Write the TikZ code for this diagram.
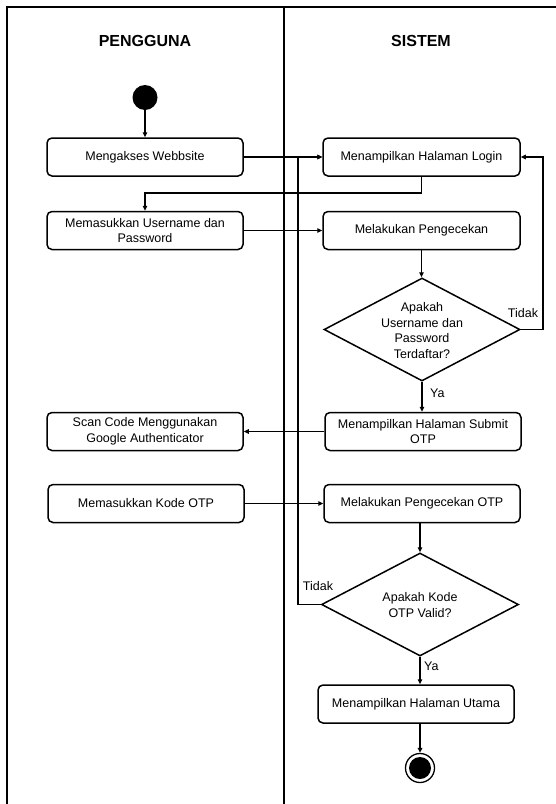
\documentclass[tikz,border=0pt]{standalone}
\usepackage{fontspec}
\setmainfont{Liberation Sans}
\usetikzlibrary{shapes.geometric,arrows.meta}
\begin{document}
\begin{tikzpicture}[x=1pt,y=-1pt,
  every node/.style={font=\fontsize{12.5}{15.5}\selectfont},
  act/.style={draw, line width=1.5pt, rounded corners=5pt, minimum width=196pt, minimum height=38pt, align=center, inner sep=0pt},
  decision/.style={draw, diamond, line width=1.5pt, inner sep=0pt},
  flow/.style={line width=1.4pt, -{Triangle[length=5pt,width=4.5pt]}},
  lane/.style={line width=2pt},
  head/.style={font=\fontsize{16}{19}\selectfont\bfseries},
  lbl/.style={inner sep=0pt}
]
\useasboundingbox (0,0) rectangle (556,804);
% swimlanes
\draw[lane] (7,804) -- (7,7) -- (556,7);
\draw[lane] (284,7) -- (284,804);
\node[head] (hp) at (145,41) {PENGGUNA};
\node[head] (hs) at (421,41) {SISTEM};

% nodes
\node[circle, fill, minimum size=25pt, inner sep=0pt] (start) at (145,97.5) {};
\node[act] (b1) at (145,157) {Mengakses Webbsite};
\node[act, minimum width=197pt] (login) at (421.5,157) {Menampilkan Halaman Login};
\node[act] (b2) at (145,230.5) {Memasukkan Username dan\\Password};
\node[act, minimum width=197pt] (cek) at (421.5,230.5) {Melakukan Pengecekan};
\node[decision, minimum width=196pt, minimum height=103pt] (d1) at (422,329.5) {};
\node[align=center, inner sep=0pt] (d1t) at (422,330.5) {Apakah\\Username dan\\Password\\Terdaftar?};
\node[act] (scan) at (145,431.5) {Scan Code Menggunakan\\Google Authenticator};
\node[act] (submit) at (423,431.5) {Menampilkan Halaman Submit\\OTP};
\node[act] (kode) at (146,503.5) {Memasukkan Kode OTP};
\node[act] (cekotp) at (422,503.5) {Melakukan Pengecekan OTP};
\node[decision, minimum width=197pt, minimum height=103pt] (d2) at (420,604.5) {};
\node[align=center, inner sep=0pt] (d2t) at (420,605) {Apakah Kode\\OTP Valid?};
\node[act] (utama) at (416,704) {Menampilkan Halaman Utama};
\node[circle, draw, line width=1.3pt, minimum size=29pt, inner sep=0pt,
  path picture={\fill (path picture bounding box.center) circle (11pt);}] (end) at (420,768) {};

% helper coordinates
\coordinate (j1) at (0,193);
\coordinate (r1) at (543,0);
\coordinate (l2) at (298,0);

% connectors
\draw[flow] (start) -- (b1);
\draw[flow] (b1.east) -- (login.west);
\draw[flow] (login.south) -- (login.south |- j1) -| (b2.north);
\draw[flow] (b2.east) -- (cek.west);
\draw[flow] (cek.south) -- (cek.south |- d1.north);
\draw[flow] (d1.east) -- (d1.east -| r1) |- (login.east);
\draw[flow] (d1.south) -- (d1.south |- submit.north);
\draw[flow] (submit.west) -- (scan.east);
\draw[flow] (kode.east) -- (cekotp.west);
\draw[flow] (cekotp.south -| d2.north) -- (d2.north);
\draw[flow] (d2.west) -- (d2.west -| l2) |- (login.west);
\draw[flow] (d2.south) -- (d2.south |- utama.north);
\draw[flow] (end.north |- utama.south) -- (end.north);

% labels
\node[lbl] (t1) at (523,313) {Tidak};
\node[lbl, anchor=west] (y1) at (430,393) {Ya};
\node[lbl] (t2) at (318,586) {Tidak};
\node[lbl, anchor=west] (y2) at (424,666) {Ya};
\end{tikzpicture}
\end{document}
